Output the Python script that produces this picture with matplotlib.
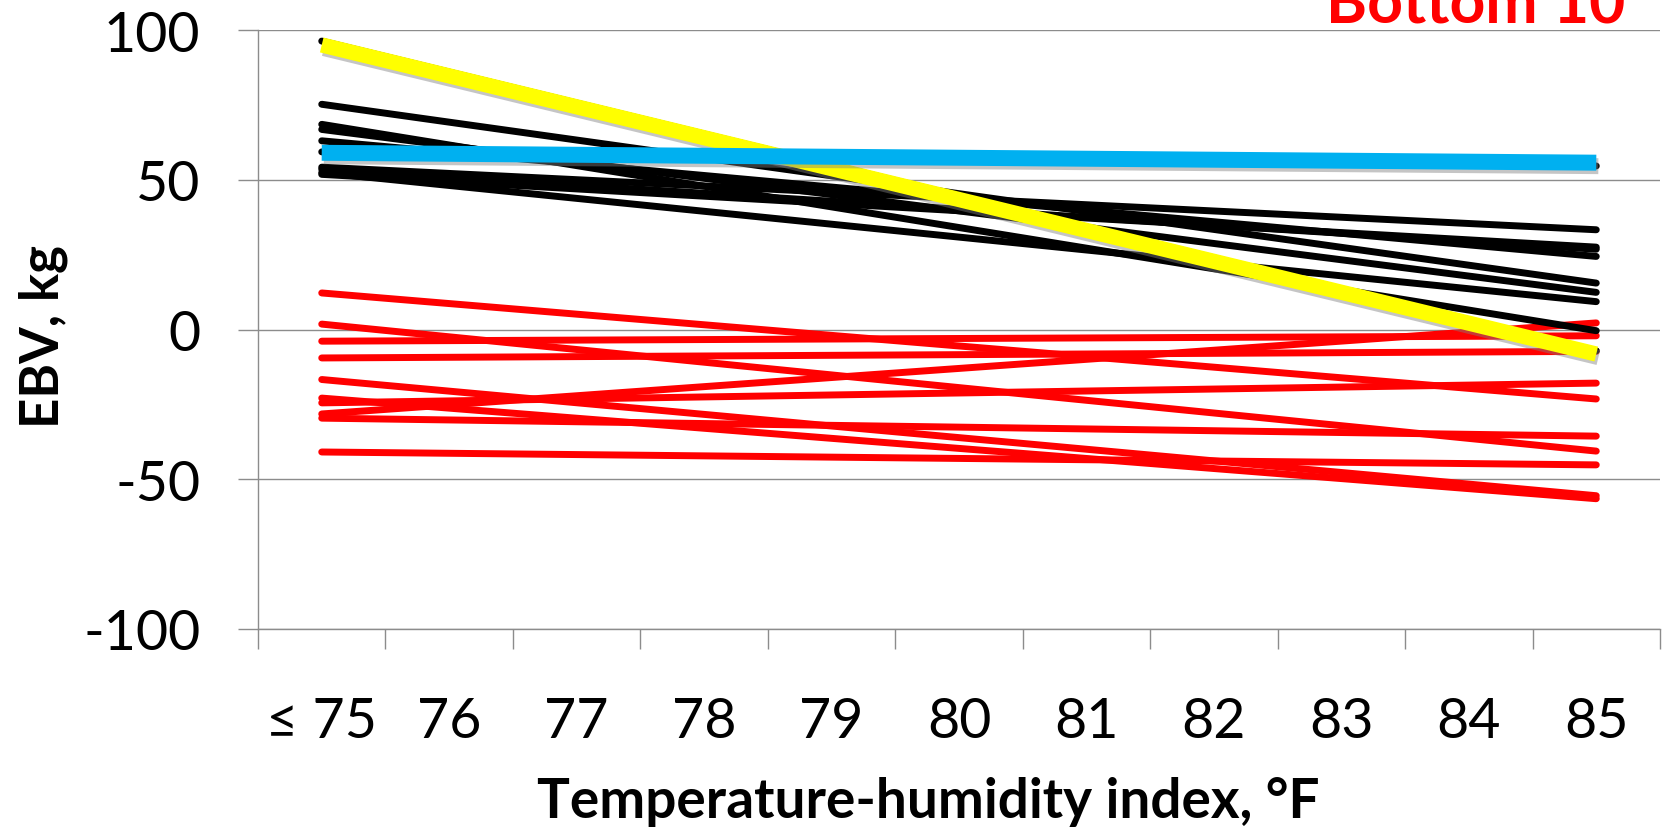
import matplotlib
matplotlib.use("Agg")
import matplotlib.pyplot as plt
import matplotlib.patheffects as pe
import numpy as np

plt.rcParams['font.family'] = ['Lato', 'DejaVu Sans']
plt.rcParams['axes.unicode_minus'] = False

# categories on the x axis (THI, °F)
categories = ["≤ 75", "76", "77", "78", "79", "80", "81", "82", "83", "84", "85"]

# EBV (kg) read at the first (≤ 75) and last (85) category, lines are straight between them
top10_start = [96.3, 75.2, 68.5, 66.8, 63.0, 59.3, 54.2, 53.5, 52.4, 51.8]
top10_end = [-7.1, 15.5, -0.4, 12.4, 24.4, 54.6, 33.3, 26.8, 9.3, 27.5]

bottom10_start = [12.2, 1.8, -3.9, -9.5, -16.7, -22.9, -24.5, -28.2, -29.6, -40.9]
bottom10_end = [-23.2, -40.6, -2.1, -7.3, -55.5, -56.5, -17.9, 2.2, -35.6, -45.2]

yellow_bull = [95.0, -8.2]
blue_bull = [59.0, 55.7]

yticks = [100, 50, 0, -50, -100]

W, H = 1665, 829
fig = plt.figure(figsize=(W / 100, H / 100), dpi=100)
ax = fig.add_axes([258 / W, 1 - 630 / H, (1660 - 258) / W, (630 - 31) / H])

ends = [0, len(categories) - 1]
grid_col = "#8c8c8c"

for y in yticks:
    ax.axhline(y, color=grid_col, lw=1.0, zorder=0)

for s, e in zip(bottom10_start, bottom10_end):
    ax.plot(ends, [s, e], color="#ff0000", lw=5.0, solid_capstyle="round", zorder=2)

for s, e in zip(top10_start, top10_end):
    ax.plot(ends, [s, e], color="black", lw=5.0, solid_capstyle="round", zorder=3)

shadow = [pe.SimpleLineShadow(offset=(1.5, -2.5), shadow_color="gray", alpha=0.45), pe.Normal()]
ax.plot(ends, yellow_bull, color="#ffff00", lw=11, solid_capstyle="butt", zorder=4, path_effects=shadow)
ax.plot(ends, blue_bull, color="#00b0f0", lw=11.5, solid_capstyle="butt", zorder=5, path_effects=shadow)

ax.set_xlim(-0.5, len(categories) - 0.5)
ax.set_ylim(-100, 100)

ax.set_xticks(range(len(categories)))
ax.set_xticklabels(categories)
ax.set_xticks(np.arange(-0.5, len(categories), 1.0), minor=True)
ax.tick_params(axis="x", which="major", length=0, pad=48, labelsize=40)
ax.tick_params(axis="x", which="minor", length=14.5, width=1.0, color=grid_col, direction="out")

ax.set_yticks(yticks)
ax.tick_params(axis="y", length=14.5, width=1.0, color=grid_col, pad=27, labelsize=40)

for side in ["top", "right"]:
    ax.spines[side].set_visible(False)
for side in ["left", "bottom"]:
    ax.spines[side].set_color(grid_col)
    ax.spines[side].set_linewidth(1.0)

fig.text(928 / W, 1 - 818 / H, "Temperature-humidity index, °F", ha="center", va="baseline",
         fontsize=39.5, fontweight="bold")
fig.text(43 / W, 1 - 337 / H, "EBV, kg", ha="center", va="center", rotation=90,
         fontsize=38, fontweight="bold")
fig.text(1625 / W, 1 - 23 / H, "Bottom 10", ha="right", va="baseline", color="#ff0000",
         fontsize=45, fontweight="bold")

fig.savefig("out.png", dpi=100)
